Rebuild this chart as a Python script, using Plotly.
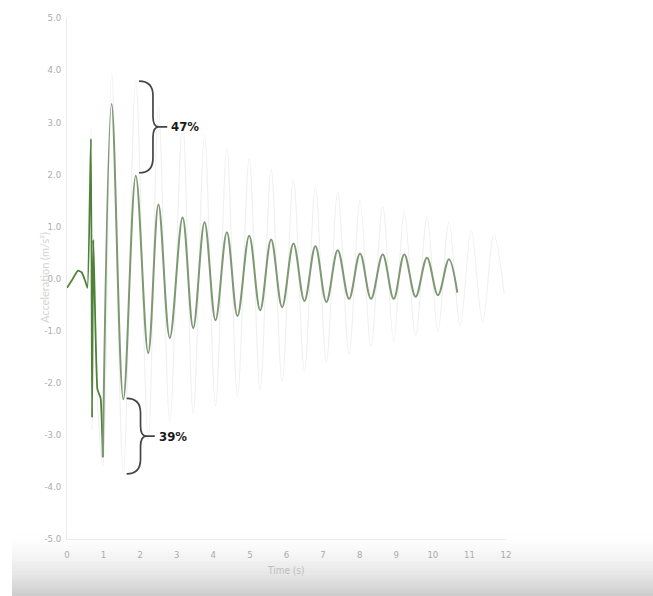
import plotly.graph_objects as go

# ---------------- data ----------------
time_s = [0.00, 0.12, 0.30, 0.40, 0.50, 0.56, 0.655, 0.685, 0.72, 0.83, 0.88, 0.92, 0.98,
          1.22, 1.54, 1.88, 2.22, 2.50, 2.81, 3.16, 3.45, 3.76, 4.06, 4.37, 4.66, 4.98,
          5.28, 5.58, 5.88, 6.19, 6.49, 6.79, 7.09, 7.40, 7.71, 8.01, 8.31, 8.63, 8.93,
          9.22, 9.53, 9.84, 10.14, 10.44, 10.67]
accel_damped = [-0.18, -0.05, 0.15, 0.12, -0.05, -0.18, 2.68, -2.67, 0.74, -2.12, -2.22, -2.30, -3.43,
                3.35, -2.32, 1.97, -1.43, 1.42, -1.14, 1.17, -0.95, 1.08, -0.80, 0.89, -0.72, 0.82,
                -0.61, 0.75, -0.55, 0.67, -0.43, 0.62, -0.45, 0.54, -0.39, 0.48, -0.39, 0.46, -0.39,
                0.46, -0.35, 0.40, -0.32, 0.37, -0.27]

time_ref = [0.56, 0.655, 0.685, 0.72, 0.83, 0.98, 1.22, 1.54, 1.88, 2.22, 2.50, 2.81, 3.16, 3.45,
            3.76, 4.06, 4.37, 4.66, 4.98, 5.28, 5.58, 5.88, 6.19, 6.49, 6.79, 7.09, 7.40, 7.71,
            8.01, 8.31, 8.63, 8.93, 9.22, 9.53, 9.84, 10.14, 10.44, 10.75, 11.05, 11.36, 11.67, 11.95]
accel_ref = [-0.18, 2.9, -2.9, 0.8, -2.3, -3.6, 3.95, -3.75, 3.79, -3.1, 3.3, -2.75, 3.0, -2.6,
             2.75, -2.45, 2.5, -2.27, 2.3, -2.15, 2.1, -1.97, 1.9, -1.78, 1.75, -1.6, 1.65, -1.45,
             1.5, -1.3, 1.38, -1.2, 1.28, -1.1, 1.18, -1.02, 1.08, -0.9, 0.92, -0.84, 0.84, -0.3]

brace_times = [1.88, 1.54]
brace_labels = ["47%", "39%"]

x_ticks = list(range(0, 13))
y_ticks = [5.0, 4.0, 3.0, 2.0, 1.0, 0.0, -1.0, -2.0, -3.0, -4.0, -5.0]

# ---------------- geometry helpers ----------------
W, H = 653, 596
L_M, R_M, T_M, B_M = 67, 147, 16, 57
PW, PH = W - L_M - R_M, H - T_M - B_M


def px_x(px):
    return (px - L_M) / PW


def px_y(py):
    return (H - B_M - py) / PH


fig = go.Figure()

# faint reference (undamped) signal
fig.add_trace(go.Scatter(x=time_ref, y=accel_ref, mode="lines",
                         line=dict(color="#f0f0f0", width=1.1, shape="spline", smoothing=1.0),
                         hoverinfo="skip", showlegend=False))

# damped signal: impulsive start (dark green) + decaying oscillation
split = 12
fig.add_trace(go.Scatter(x=time_s[:split + 1], y=accel_damped[:split + 1], mode="lines",
                         line=dict(color="#4f8139", width=1.8, shape="spline", smoothing=0.4),
                         showlegend=False))
fig.add_trace(go.Scatter(x=time_s[split:], y=accel_damped[split:], mode="lines",
                         line=dict(color="#7e9873", width=2, shape="spline", smoothing=1.0),
                         showlegend=False))

# ---------------- braces ----------------
shapes = []
annotations = []
for tb, lab in zip(brace_times, brace_labels):
    g = accel_damped[time_s.index(tb)]
    r = accel_ref[time_ref.index(tb)]
    yt, yb = max(g, r), min(g, r)
    if g > 0:
        yb += 0.06
    else:
        yt += 0.02
    ym = (yt + yb) / 2
    x_tip, x_v, x_mid, x_dash, x_txt = tb + 0.09, tb + 0.47, tb + 0.63, tb + 0.86, tb + 0.92
    rc, rm = 0.28, 0.2
    path = (f"M {x_tip},{yt} Q {x_v},{yt} {x_v},{yt - rc} L {x_v},{ym + rm} "
            f"Q {x_v},{ym} {x_mid},{ym} L {x_dash},{ym} M {x_mid},{ym} "
            f"Q {x_v},{ym} {x_v},{ym - rm} L {x_v},{yb + rc} Q {x_v},{yb} {x_tip},{yb}")
    shapes.append(dict(type="path", path=path, xref="x", yref="y",
                       line=dict(color="#454545", width=1.7)))
    annotations.append(dict(x=x_txt, y=ym, xref="x", yref="y", text=lab, showarrow=False,
                            xanchor="left", yanchor="middle",
                            font=dict(family="Liberation Sans Narrow, DejaVu Sans Condensed, sans-serif",
                                      size=13, color="#1a1a1a", weight="bold")))

# bottom grey gradient band (decoration)
top_px, n = 534, 20
for i in range(n):
    y0 = top_px + (H - top_px) * i / n
    y1 = top_px + (H - top_px) * (i + 1) / n
    f = (i + 0.5) / n
    c = int(255 - 50 * f ** 1.6)
    shapes.append(dict(type="rect", xref="paper", yref="paper",
                       x0=px_x(12), x1=px_x(W + 2), y0=px_y(y1 + 0.5), y1=px_y(y0),
                       fillcolor=f"rgb({c},{c},{c})", line=dict(width=0), layer="below"))

# axis titles
annotations.append(dict(x=px_x(286), y=px_y(571), xref="paper", yref="paper", text="Time (s)",
                        showarrow=False, xanchor="center", yanchor="middle",
                        font=dict(family="Liberation Sans Narrow, DejaVu Sans Condensed, sans-serif",
                                  size=10, color="#bdbdbd")))
annotations.append(dict(x=px_x(44), y=px_y(277), xref="paper", yref="paper",
                        text="Acceleration (m/s²)", textangle=-90,
                        showarrow=False, xanchor="center", yanchor="middle",
                        font=dict(family="Lato, DejaVu Sans, sans-serif",
                                  size=11, color="#d3d3d3")))

tick_font = dict(family="Liberation Sans Narrow, DejaVu Sans Condensed, sans-serif",
                 size=9.5, color="#ababab")

fig.update_layout(
    width=W, height=H, autosize=False,
    margin=dict(l=L_M, r=R_M, t=T_M, b=B_M, pad=0),
    paper_bgcolor="white", plot_bgcolor="white",
    shapes=shapes, annotations=annotations,
    xaxis=dict(range=[0, 12], tickvals=x_ticks, ticktext=[str(v) for v in x_ticks],
               showgrid=False, zeroline=False, showline=True, linecolor="#ececec", linewidth=1,
               ticks="outside", ticklen=7, tickcolor="rgba(0,0,0,0)", tickfont=tick_font,
               fixedrange=True),
    yaxis=dict(range=[-5, 5], tickvals=y_ticks, ticktext=[f"{v:.1f}" for v in y_ticks],
               showgrid=False, zeroline=False, showline=True, linecolor="#ececec", linewidth=1,
               ticks="outside", ticklen=3, tickcolor="rgba(0,0,0,0)", tickfont=tick_font,
               fixedrange=True),
)

fig.write_html("out.html", config={"displayModeBar": False},
               post_script="document.body.style.margin='0';")
